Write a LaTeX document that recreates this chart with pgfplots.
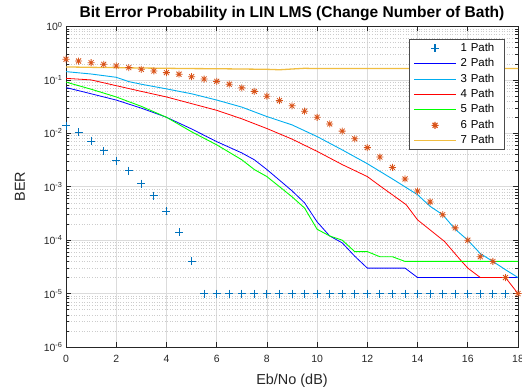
\documentclass[border=0pt]{standalone}
\usepackage{fontspec}
\setmainfont{Liberation Sans}
\usepackage{pgfplots}
\pgfplotsset{compat=1.18}

\definecolor{mplus}{rgb}{0,0.447,0.741}
\definecolor{mstar}{rgb}{0.85,0.325,0.098}
\definecolor{mgold}{rgb}{0.929,0.694,0.125}

% eight-armed asterisk (plus and cross combined)
\pgfdeclareplotmark{mstar8}{%
  \pgfpathmoveto{\pgfqpoint{-\pgfplotmarksize}{0pt}}%
  \pgfpathlineto{\pgfqpoint{\pgfplotmarksize}{0pt}}%
  \pgfpathmoveto{\pgfqpoint{0pt}{-\pgfplotmarksize}}%
  \pgfpathlineto{\pgfqpoint{0pt}{\pgfplotmarksize}}%
  \pgfpathmoveto{\pgfqpoint{-0.7071\pgfplotmarksize}{-0.7071\pgfplotmarksize}}%
  \pgfpathlineto{\pgfqpoint{0.7071\pgfplotmarksize}{0.7071\pgfplotmarksize}}%
  \pgfpathmoveto{\pgfqpoint{-0.7071\pgfplotmarksize}{0.7071\pgfplotmarksize}}%
  \pgfpathlineto{\pgfqpoint{0.7071\pgfplotmarksize}{-0.7071\pgfplotmarksize}}%
  \pgfusepathqstroke}

% legend sample: a 42bp line with the marker in its middle
\pgfplotsset{
  legend image code/.code={%
    \draw[mark repeat=2,mark phase=2,#1]
      plot coordinates {(0bp,0bp) (21bp,0bp) (42bp,0bp)};},
}

\begin{document}
\begin{tikzpicture}
\path[use as bounding box] (-66bp,-40bp) rectangle (456bp,347bp);
\begin{axis}[
  scale only axis,
  width=452bp, height=320.5bp,
  at={(0,0)}, anchor=south west,
  ymode=log,
  xmin=0, xmax=18, ymin=1e-6, ymax=1,
  xtick={0,2,4,6,8,10,12,14,16,18},
  xticklabels={0,2,4,6,8,10,12,14,16,18},
  ytick={1e-6,1e-5,1e-4,1e-3,1e-2,1e-1,1},
  yticklabels={10\textsuperscript{-6},10\textsuperscript{-5},10\textsuperscript{-4},10\textsuperscript{-3},10\textsuperscript{-2},10\textsuperscript{-1},10\textsuperscript{0}},
  tick label style={font=\fontsize{10.5}{12}\selectfont, text=black!85},
  xticklabel style={yshift=-5bp},
  title={Bit Error Probability in LIN LMS (Change Number of Bath)},
  title style={font=\bfseries\fontsize{15.6}{17}\selectfont, yshift=-4bp},
  xlabel={Eb/No (dB)},
  ylabel={BER},
  label style={font=\fontsize{14.5}{16}\selectfont, text=black!85},
  xlabel style={yshift=-4.5bp},
  ylabel style={yshift=12bp},
  grid=both,
  major grid style={color=black!14, line width=0.6bp},
  minor grid style={color=black!20, line width=0.6bp, dotted},
  tick align=inside,
  xtick pos=both, ytick pos=both,
  major tick length=5bp, minor tick length=3bp,
  every tick/.style={black!85, line width=0.6bp},
  axis line style={black!85, line width=0.6bp},
  legend cell align=left,
  every legend image post/.style={line width=1.1bp},
  legend style={at={(0.971,0.961)}, anchor=north east,
    font=\fontsize{11.5}{13}\selectfont, line width=0.6bp,
    inner xsep=4bp, inner ysep=3bp, row sep=3.4bp, column sep=4bp,
    nodes={inner xsep=0bp, inner ysep=0.5bp, text width=40bp, align=left,
           text height=8.5bp, text depth=2.5bp}},
  every axis legend/.append style={draw=black!70},
]
% 1 Path
\addplot[only marks, mark=+, mark size=4bp, color=mplus, line width=0.8bp] coordinates {
  (0,1.4e-2) (0.5,1.05e-2) (1,7.2e-3) (1.5,4.7e-3) (2,3.1e-3) (2.5,2.0e-3)
  (3,1.15e-3) (3.5,6.8e-4) (4,3.5e-4) (4.5,1.4e-4) (5,4.0e-5)
  (5.5,1e-5) (6,1e-5) (6.5,1e-5) (7,1e-5) (7.5,1e-5) (8,1e-5) (8.5,1e-5)
  (9,1e-5) (9.5,1e-5) (10,1e-5) (10.5,1e-5) (11,1e-5) (11.5,1e-5) (12,1e-5)
  (12.5,1e-5) (13,1e-5) (13.5,1e-5) (14,1e-5) (14.5,1e-5) (15,1e-5)
  (15.5,1e-5) (16,1e-5) (16.5,1e-5) (17,1e-5) (17.5,1e-5)
};
\addlegendentry{1 Path}
% 2 Path
\addplot[color=blue, line width=0.8bp, no marks] coordinates {
  (0,0.072) (1,0.055) (2,0.042) (3,0.0296) (4,0.020) (5,0.0121) (6,7.0e-3)
  (7,4.3e-3) (7.5,3.2e-3) (8,2.1e-3) (9,8.4e-4) (9.5,5.0e-4) (10,2.2e-4)
  (10.5,1.2e-4) (11,8.9e-5) (11.5,5.0e-5) (12,3.0e-5) (13.5,3.0e-5)
  (14,2.0e-5) (18,2.0e-5)
};
\addlegendentry{2 Path}
% 3 Path
\addplot[color=cyan, line width=0.9bp, no marks] coordinates {
  (0,0.143) (1,0.129) (2,0.112) (2.5,0.093) (3,0.083) (4,0.068) (5,0.055)
  (6,0.042) (7,0.031) (8,0.0206) (9,0.0144) (10,8.7e-3) (11,4.9e-3)
  (12,2.7e-3) (13,1.4e-3) (14,7.1e-4) (14.5,4.3e-4) (15,3.0e-4)
  (15.5,1.6e-4) (16,1.0e-4) (16.5,5.6e-5) (17,4.0e-5) (17.5,2.8e-5) (18,2.0e-5)
};
\addlegendentry{3 Path}
% 4 Path
\addplot[color=red, line width=0.8bp, no marks] coordinates {
  (0,0.107) (1,0.100) (2,0.078) (3,0.061) (4,0.048) (5,0.036) (6,0.027)
  (7,0.0187) (8,0.0123) (9,7.8e-3) (10,4.6e-3) (11,2.6e-3) (12,1.55e-3)
  (12.55,1.0e-3) (13.55,4.6e-4) (14,2.4e-4) (15.07,9.5e-5) (15.7,4.3e-5)
  (16,3.0e-5) (16.5,2.0e-5) (17.5,2.0e-5) (18,1.0e-5)
};
\addlegendentry{4 Path}
% 5 Path
\addplot[color=green, line width=0.9bp, no marks] coordinates {
  (0,0.091) (1,0.067) (2,0.048) (3,0.032) (4,0.020) (5,0.0107) (6,6.1e-3)
  (7,3.2e-3) (7.5,2.1e-3) (8,1.55e-3) (9,6.5e-4) (9.5,4.0e-4) (10,1.6e-4)
  (10.5,1.2e-4) (11,1.0e-4) (11.5,6.1e-5) (12,6.1e-5) (12.5,4.9e-5)
  (13,4.9e-5) (13.5,4.0e-5) (18,4.0e-5)
};
\addlegendentry{5 Path}
% 6 Path
\addplot[only marks, mark=mstar8, mark size=3.5bp, color=mstar, line width=0.8bp] coordinates {
  (0,0.244) (0.5,0.226) (1,0.210) (1.5,0.196) (2,0.183) (2.5,0.170)
  (3,0.158) (3.5,0.147) (4,0.137) (4.5,0.128) (5,0.115) (5.5,0.104)
  (6,0.094) (6.5,0.083) (7,0.071) (7.5,0.061) (8,0.0495) (8.5,0.041)
  (9,0.0327) (9.5,0.026) (10,0.020) (10.5,0.015) (11,0.011) (11.5,7.9e-3)
  (12,5.4e-3) (12.5,3.6e-3) (13,2.3e-3) (13.5,1.4e-3) (14,8.3e-4)
  (14.5,5.2e-4) (15,3.0e-4) (15.5,1.7e-4) (16,1.0e-4) (16.5,4.9e-5)
  (17,4.0e-5) (17.5,2.0e-5) (18,1.0e-5)
};
\addlegendentry{6 Path}
% 7 Path
\addplot[color=mgold!85!white, line width=1.3bp, no marks] coordinates {
  (0,0.175) (1,0.172) (2,0.170) (3,0.167) (4,0.165) (5,0.163) (6,0.162)
  (7,0.160) (8,0.158) (8.5,0.155) (9,0.160) (9.5,0.165) (10,0.163)
  (12,0.163) (14,0.163) (16,0.163) (18,0.163)
};
\addlegendentry{7 Path}
\end{axis}
\end{tikzpicture}
\end{document}
